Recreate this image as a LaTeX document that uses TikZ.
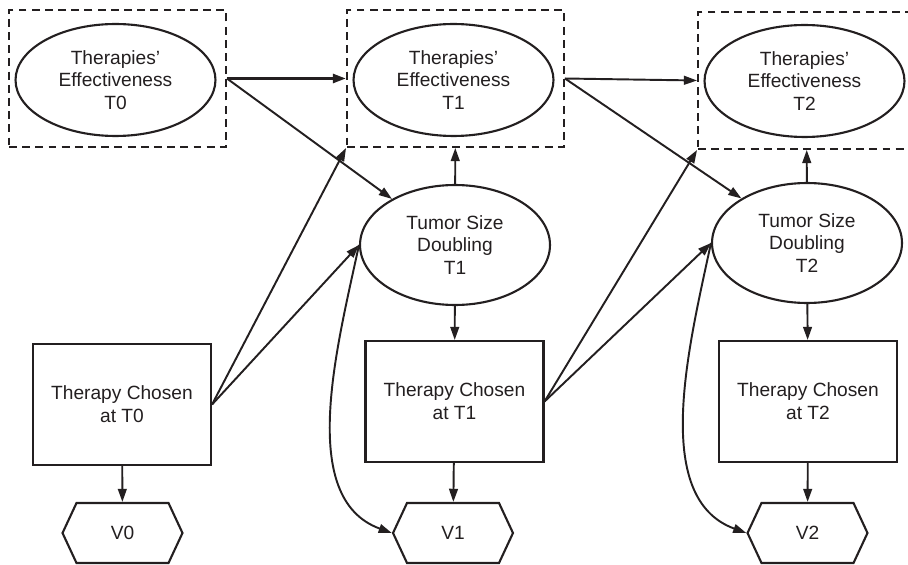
\documentclass[tikz,border=0pt]{standalone}
\usepackage{fontspec}
\setmainfont{Liberation Sans}
\usetikzlibrary{shapes.geometric,shapes.symbols,arrows.meta}
\definecolor{ink}{RGB}{35,31,32}
\tikzset{
  lbl/.style={font=\fontsize{10.9}{13}\selectfont,align=center,line width=1.2pt,text=ink},
  effbox/.style={draw=ink,dash pattern=on 4.5pt off 3pt,minimum width=4.34cm,minimum height=2.74cm},
  effnode/.style={lbl,draw=ink,ellipse,inner sep=0pt,minimum width=4cm,minimum height=2.24cm},
  tumor/.style={lbl,draw=ink,ellipse,inner sep=0pt,minimum width=3.8cm,minimum height=2.4cm},
  choice/.style={lbl,draw=ink,rectangle,minimum width=3.56cm,minimum height=2.42cm},
  value/.style={lbl,draw=ink,signal,signal to=west and east,signal pointer angle=130,
    minimum width=2.4cm,minimum height=1.2cm},
  link/.style={->,ink,line width=1.1pt},
  >={Triangle[length=7.5pt,width=5pt]}
}

\begin{document}
\begin{tikzpicture}[x=0.02cm,y=-0.02cm]
\clip (0,0) rectangle (908,564);
% therapies' effectiveness
\node[effbox,line width=1.1pt] (B0) at (117.5,78.5) {};
\node[effbox,line width=1.1pt] (B1) at (455.5,78.5) {};
\node[effbox,line width=1.1pt] (B2) at (806.5,80.5) {};
\node[effnode] (E0) at (115.5,80) {Therapies'\\Effectiveness\\T0};
\node[effnode] (E1) at (453.5,80) {Therapies'\\Effectiveness\\T1};
\node[effnode] (E2) at (804.5,81) {Therapies'\\Effectiveness\\T2};
% tumor size doubling
\node[tumor] (D1) at (455,245) {Tumor Size\\Doubling\\T1};
\node[tumor] (D2) at (807,243) {Tumor Size\\Doubling\\T2};
% therapy chosen
\node[choice] (C0) at (122,404.5) {Therapy Chosen\\at T0};
\node[choice] (C1) at (454.5,401.5) {Therapy Chosen\\at T1};
\node[choice] (C2) at (808,401.5) {Therapy Chosen\\at T2};
% values
\node[value] (V0) at (122.5,533) {V0};
\node[value] (V1) at (453,533) {V1};
\node[value] (V2) at (807.5,533) {V2};
% links
\draw[link,line width=1.7pt] (B0.east) -- (B1.west);
\draw[link] (B1.east) -- (B2.west);
\draw[link] (B0.east) -- (D1);
\draw[link] (B1.east) -- (D2);
\draw[link] (D1) -- (B1);
\draw[link] (D2) -- (B2);
\draw[link] (C0.east) -- (B1.south west);
\draw[link] (C0.east) -- (D1.west);
\draw[link] (C1.east) -- (B2.south west);
\draw[link] (C1.east) -- (D2.west);
\draw[link] (D1) -- (C1);
\draw[link] (D2) -- (C2);
\draw[link] (C0) -- (V0);
\draw[link] (C1) -- (V1);
\draw[link] (C2) -- (V2);
\draw[link] (D1.west) to[out=258,in=160,looseness=0.9] (V1.west);
\draw[link] (D2.west) to[out=258,in=160,looseness=0.9] (V2.west);
\end{tikzpicture}
\end{document}
